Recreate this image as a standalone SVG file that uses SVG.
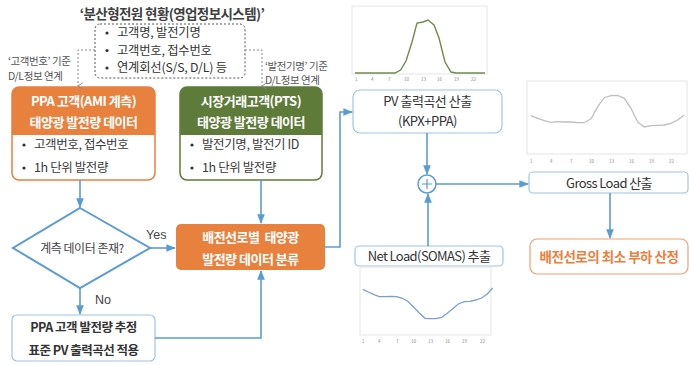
<svg xmlns="http://www.w3.org/2000/svg" width="689" height="365" viewBox="0 0 689 365">
<style>
text{font-family:"Noto Sans CJK KR","Noto Sans",sans-serif;}
.t{font-size:12.3px;fill:#333;letter-spacing:-0.2px}
.ts{font-size:10.5px;fill:#555;letter-spacing:-0.4px}
.h{font-size:13px;fill:#fff;font-weight:bold;letter-spacing:-0.5px}
.b{font-size:12.5px;fill:#3a3a3a;letter-spacing:-0.4px}
.c{stroke:#5B9BD5;stroke-width:1.6;fill:none}
.ax{font-size:4.5px;fill:#888;font-family:"Liberation Sans",sans-serif}
.fr{fill:#fff;stroke:#e6e6e6;stroke-width:1}
</style>
<defs>
<marker id="a" viewBox="0 0 10 10" refX="9" refY="5" markerWidth="6" markerHeight="6" orient="auto-start-reverse"><path d="M0,1 L10,5 L0,9 z" fill="#5B9BD5"/></marker>
<marker id="g" viewBox="0 0 10 10" refX="5" refY="8" markerWidth="8" markerHeight="8" orient="auto"><path d="M1,2 L5,8 L9,2" fill="none" stroke="#888" stroke-width="1.2"/></marker>
</defs>

<rect width="689" height="365" fill="#fff"/>

<!-- title and source box -->
<g id="source">
<text x="172" y="19" text-anchor="middle" style="font-size:13.5px;font-weight:bold;fill:#404040;letter-spacing:-0.6px">‘분산형전원 현황(영업정보시스템)’</text>
<rect x="95" y="24" width="150" height="54" rx="5" fill="none" stroke="#555" stroke-width="1" stroke-dasharray="2,2"/>
<circle cx="107" cy="33" r="1.6" fill="#333"/><text class="t" x="117" y="37">고객명, 발전기명</text>
<circle cx="107" cy="50.5" r="1.6" fill="#333"/><text class="t" x="117" y="54.5">고객번호, 접수번호</text>
<circle cx="107" cy="68" r="1.6" fill="#333"/><text class="t" x="117" y="72">연계회선(S/S, D/L) 등</text>
</g>

<g id="labels">
<text class="ts" x="8" y="65">‘고객번호’ 기준</text>
<text class="ts" x="8" y="80">D/L정보 연계</text>
<text class="ts" x="265" y="70">‘발전기명’ 기준</text>
<text class="ts" x="265" y="84">D/L정보 연계</text>
</g>

<!-- PPA box -->
<g id="ppa">
<rect x="12" y="87" width="143" height="93" rx="7" fill="#fff" stroke="#E8803E" stroke-width="1.5"/>
<path d="M12,135 V94 a7,7 0 0 1 7,-7 H148 a7,7 0 0 1 7,7 V135 z" fill="#E8803E"/>
<text class="h" x="83.5" y="106" text-anchor="middle">PPA 고객(AMI 계측)</text>
<text class="h" x="83.5" y="127" text-anchor="middle">태양광 발전량 데이터</text>
<circle cx="24" cy="145" r="1.6" fill="#333"/><text class="b" x="34" y="149">고객번호, 접수번호</text>
<circle cx="24" cy="168" r="1.6" fill="#333"/><text class="b" x="34" y="172">1h 단위 발전량</text>
</g>

<!-- PTS box -->
<g id="pts">
<rect x="180" y="87" width="142" height="93" rx="7" fill="#fff" stroke="#5E7B3A" stroke-width="1.5"/>
<path d="M180,135 V94 a7,7 0 0 1 7,-7 H315 a7,7 0 0 1 7,7 V135 z" fill="#5E7B3A"/>
<text class="h" x="251" y="106" text-anchor="middle">시장거래고객(PTS)</text>
<text class="h" x="251" y="127" text-anchor="middle">태양광 발전량 데이터</text>
<circle cx="192" cy="145" r="1.6" fill="#333"/><text class="b" x="202" y="149">발전기명, 발전기 ID</text>
<circle cx="192" cy="168" r="1.6" fill="#333"/><text class="b" x="202" y="172">1h 단위 발전량</text>
</g>

<!-- diamond -->
<g id="decision">
<polygon points="80,208 150,248 80,288 13,248" fill="#fff" stroke="#5B9BD5" stroke-width="2"/>
<text x="82" y="253" text-anchor="middle" style="font-size:12px;fill:#444;letter-spacing:-0.5px">계측 데이터 존재?</text>
</g>

<!-- classify box -->
<g id="classify">
<rect x="176" y="224" width="149" height="46" rx="5" fill="#E8803E"/>
<text class="h" x="250.5" y="242" text-anchor="middle" style="white-space:pre">배전선로별  태양광</text>
<text class="h" x="250.5" y="264" text-anchor="middle">발전량 데이터 분류</text>
</g>

<!-- estimate box -->
<g id="estimate">
<rect x="12" y="315" width="143" height="46" rx="5" fill="#fff" stroke="#9DC3E6" stroke-width="1.2"/>
<text x="83.5" y="332" text-anchor="middle" style="font-size:12.5px;fill:#333;font-weight:bold;letter-spacing:-0.5px">PPA 고객 발전량 추정</text>
<text x="83.5" y="355" text-anchor="middle" style="font-size:12.5px;fill:#333;font-weight:bold;letter-spacing:-0.5px">표준 PV 출력곡선 적용</text>
</g>

<!-- PV box -->
<g id="pv">
<rect x="353" y="90" width="149" height="43" rx="7" fill="#fff" stroke="#9DC3E6" stroke-width="1.2"/>
<text x="427.5" y="106" text-anchor="middle" style="font-size:13px;fill:#333;letter-spacing:-0.5px">PV 출력곡선 산출</text>
<text x="427.5" y="126" text-anchor="middle" style="font-size:13px;fill:#333;letter-spacing:-0.5px">(KPX+PPA)</text>
</g>

<!-- plus -->
<g id="plus">
<circle cx="427" cy="184" r="9" fill="#fff" stroke="#5B9BD5" stroke-width="1.5"/>
<path d="M422,184 H432 M427,179 V189" stroke="#5B9BD5" stroke-width="1.2"/>
</g>

<!-- Gross load -->
<g id="gross">
<rect x="529" y="172" width="159" height="21" rx="4" fill="#fff" stroke="#9DC3E6" stroke-width="1.2"/>
<text x="609" y="188" text-anchor="middle" style="font-size:13px;fill:#333;letter-spacing:-0.6px">Gross Load 산출</text>
</g>

<!-- Net load -->
<g id="net">
<rect x="355" y="246" width="148" height="20" rx="4" fill="#fff" stroke="#9DC3E6" stroke-width="1.2"/>
<text x="429" y="261" text-anchor="middle" style="font-size:13px;fill:#333;letter-spacing:-0.6px">Net Load(SOMAS) 추출</text>
</g>

<!-- final -->
<g id="final">
<rect x="530" y="239" width="158" height="35" rx="7" fill="#fff" stroke="#F0A070" stroke-width="1.2"/>
<text x="609" y="262" text-anchor="middle" style="font-size:13.5px;fill:#E8803E;font-weight:bold;letter-spacing:-0.5px">배전선로의 최소 부하 산정</text>
</g>

<!-- charts -->
<g id="chart-pv">
<rect class="fr" x="352" y="6" width="135" height="68"/>
<polyline fill="none" stroke="#6E8B4A" stroke-width="1.4" points="355,73 395,73 400.6,70 406,61 412,42 417,23 423,22 428,20 434,25 439,38 445,62 451,72 456,73 485,73"/>
<g class="ax"><text x="355" y="81">1</text><text x="371" y="81">4</text><text x="388" y="81">7</text><text x="404" y="81">10</text><text x="421" y="81">13</text><text x="437" y="81">16</text><text x="454" y="81">19</text><text x="471" y="81">22</text></g>
</g>

<g id="chart-gross">
<rect class="fr" x="527" y="81" width="160" height="73"/>
<polyline fill="none" stroke="#BFBFBF" stroke-width="1.3" points="531,115.7 537.7,118.3 544.3,120.7 551,122.3 557.7,121.7 564.3,122 571,122 577.7,122.7 584.3,122.7 591,118.7 597.7,106.7 604.3,97.7 611,95.7 617.7,95.3 624.3,98.3 631,108.3 637.7,122 644.3,127 651,125.7 657.7,125.3 664.3,125 671,123.3 677.7,120 684.3,115"/>
<g class="ax"><text x="530" y="163">1</text><text x="550" y="163">4</text><text x="570" y="163">7</text><text x="589" y="163">10</text><text x="609" y="163">13</text><text x="629" y="163">16</text><text x="649" y="163">19</text><text x="669" y="163">22</text></g>
</g>

<g id="chart-net">
<rect class="fr" x="360" y="267" width="131" height="68"/>
<polyline fill="none" stroke="#7B9FD4" stroke-width="1.3" points="362.7,289.3 368.3,292 374,294.7 379.3,296.7 385,296.7 390.7,296.3 396.7,296.7 402.3,298.3 407.7,301.3 413.3,306.7 419,312.7 425,318.3 430.3,318.7 436,318.7 441.7,317.3 447.3,313.3 452.7,308.7 458.3,304 464.3,301.7 470,301.3 475.7,300 481.7,298 487.3,294 492.7,288"/>
<g class="ax"><text x="362" y="343">1</text><text x="378" y="343">4</text><text x="396" y="343">7</text><text x="411" y="343">10</text><text x="428" y="343">13</text><text x="445" y="343">16</text><text x="462" y="343">19</text><text x="480" y="343">22</text></g>
</g>

<!-- connectors -->
<g id="connectors">
<path d="M95,50 H78 V86" fill="none" stroke="#888" stroke-width="1" stroke-dasharray="2,2" marker-end="url(#g)"/>
<path d="M245,50 H262 V86" fill="none" stroke="#888" stroke-width="1" stroke-dasharray="2,2" marker-end="url(#g)"/>
<path class="c" d="M80,180 V207" marker-end="url(#a)"/>
<path class="c" d="M261,180 V223" marker-end="url(#a)"/>
<path class="c" d="M150,248 H175" marker-end="url(#a)"/>
<path class="c" d="M80,288 V314" marker-end="url(#a)"/>
<path class="c" d="M155,338 H261 V271" marker-end="url(#a)"/>
<path class="c" d="M325,247 H340 V112 H352" marker-end="url(#a)"/>
<path class="c" d="M427,133 V174" marker-end="url(#a)"/>
<path class="c" d="M428,246 V194" marker-end="url(#a)"/>
<path class="c" d="M436,184 H528" marker-end="url(#a)"/>
<path class="c" d="M610,193 V238" marker-end="url(#a)"/>
<text x="146" y="239" style="font-size:12.5px;fill:#444;font-family:'Liberation Sans',sans-serif">Yes</text>
<text x="95" y="304" style="font-size:12.5px;fill:#444;font-family:'Liberation Sans',sans-serif">No</text>
</g>
</svg>
